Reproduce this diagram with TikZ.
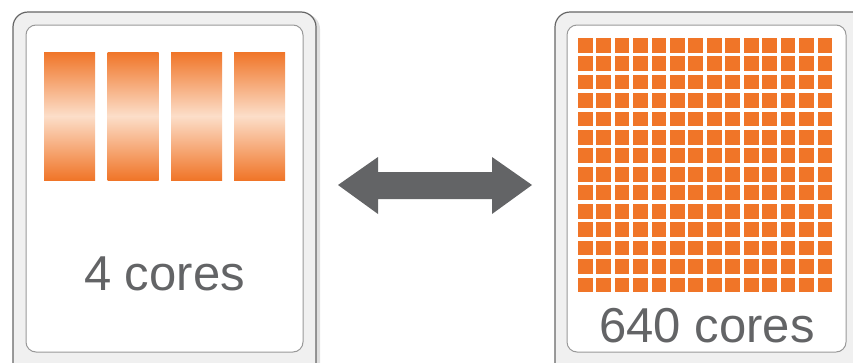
\documentclass[tikz,border=0pt]{standalone}
\usepackage{fontspec}
\setmainfont{Liberation Sans}
\begin{document}
\begin{tikzpicture}[x=1pt,y=-1pt,
  outerbox/.style={draw=black!60,line width=1.2pt,fill=black!6,rounded corners=15pt},
  innerbox/.style={draw=black!40,line width=1pt,fill=white,rounded corners=10pt},
  shadowbox/.style={fill=black!25,opacity=0.5,rounded corners=15pt},
  bar/.style={top color=coreorange,bottom color=coreorange,middle color=corelight},
  core/.style={fill=coreorange},
  label/.style={text=labelgray,font=\fontsize{49}{49}\selectfont,inner sep=0pt,anchor=base}]
\definecolor{coreorange}{HTML}{F07528}
\definecolor{corelight}{HTML}{FCDEC9}
\definecolor{labelgray}{HTML}{636466}
\definecolor{arrowgray}{HTML}{636466}
\useasboundingbox (0,0) rectangle (853,362);
% left box
\fill[shadowbox] (15,14) rectangle (320,380);
\draw[outerbox] (13,12) rectangle (316,380);
\draw[innerbox] (26,25) rectangle (303,352);
\foreach \x in {44,107.5,171,234}{
  \shade[bar] (\x,52) rectangle ++(51,128);
}
\node[label] (l4) at (164.5,290) {4 cores};
% right box
\fill[shadowbox] (557,14) rectangle (870,380);
\draw[outerbox] (555,12) rectangle (870,380);
\draw[innerbox] (567,25) rectangle (846,352);
\foreach \i in {0,...,13}{
  \foreach \j in {0,...,13}{
    \fill[core] ({577.7+\i*18.45},{37.7+\j*18.45}) rectangle ++(14.8,14.8);
  }
}
\node[label] (l640) at (707,342) {640 cores};
% arrow
\fill[arrowgray] (338,185) -- (378,157) -- (378,172) -- (492,172) -- (492,157) -- (532,185)
  -- (492,214) -- (492,199) -- (378,199) -- (378,214) -- cycle;
\end{tikzpicture}
\end{document}
